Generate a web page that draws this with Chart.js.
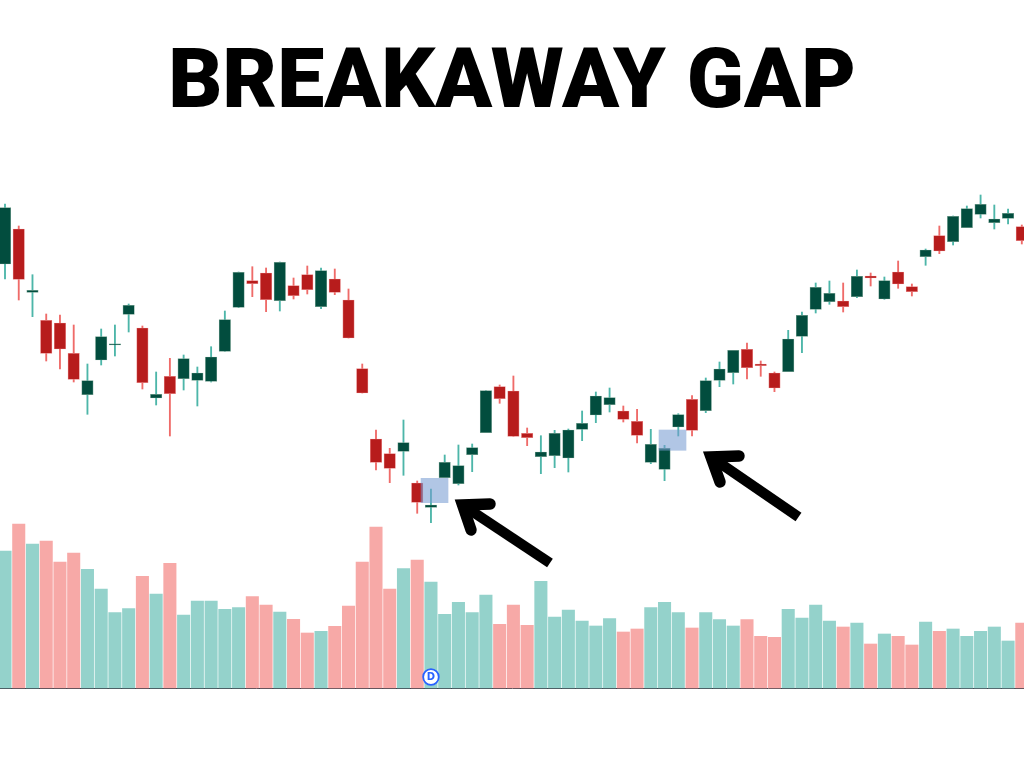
<!DOCTYPE html>
<html>
<head>
<meta charset="utf-8">
<title>Breakaway Gap</title>
<script src="https://cdn.jsdelivr.net/npm/chart.js@4"></script>
<style>
    html, body { margin: 0; padding: 0; background: #ffffff; }
    canvas { display: block; }
</style>
</head>
<body>
<canvas id="gap-chart" width="1024" height="768"></canvas>
<script>
const chartTitle = 'BREAKAWAY GAP';

// Candle values, left to right
const opens = [504, 539, 475.7, 447.7, 445, 414.7, 373.3, 408, 423, 453.7, 440, 370, 391.7, 389.3, 387.7, 386.7, 416.7, 460.7, 487.3, 495, 467.3, 482.3, 493.3, 461.3, 489, 468, 399.3, 329, 314.3, 316.7, 285, 260.7, 290.3, 284.3, 313.3, 335.3, 381.3, 377, 334.7, 311.3, 312.3, 310, 338.7, 353, 363.3, 357, 346.7, 305.7, 298.7, 341, 368.7, 357.3, 387.7, 395.3, 418.7, 404, 395, 396.3, 431.7, 458.7, 466.3, 467, 471.3, 492, 469, 496, 481.3, 511.3, 532.3, 526.3, 540.3, 553.7, 545.3, 549.7, 541.3];
const highs = [564, 542, 493.3, 454, 453, 443, 404, 439, 443, 464, 442, 396, 409.7, 413, 401, 421.3, 457, 496, 501.3, 500, 506, 490, 502, 500, 499, 479, 404, 338, 319.7, 348, 287, 279, 313, 323, 324, 377.3, 383, 392, 340, 332.3, 337.7, 339, 357, 376, 380, 362, 358.7, 338.7, 322.7, 354.3, 372.3, 390, 406, 417.7, 425, 407, 396, 437.7, 456, 485, 487, 485, 498, 495, 491, 507, 484, 519, 542, 552, 562, 573, 563, 559, 543];
const lows = [489, 468, 451.3, 407, 399, 386, 353.7, 403, 412, 436, 379, 363, 332, 378, 362, 386, 416.7, 460.3, 471.3, 456.3, 457, 469, 474, 459.3, 473.3, 430, 375, 298, 285.3, 292.7, 254.7, 245.3, 290.3, 283, 296.3, 335.3, 364.7, 331.7, 322.3, 294.3, 300.3, 296, 327.3, 345.3, 356, 346, 325, 304.3, 287.3, 332, 332, 355.3, 381.3, 384, 389, 391.7, 376.3, 396.3, 415.3, 455, 463.7, 456, 470.3, 482, 468.7, 479.7, 472, 502.7, 514.3, 523, 540.3, 550, 539, 544, 524];
const closes = [560.3, 488.7, 477.7, 414.7, 419, 388.7, 387.3, 431.3, 424.2, 462.7, 385.3, 373.7, 374.3, 409.3, 395, 411, 448.3, 495.7, 484.3, 468.3, 505.7, 472.3, 478.3, 497.3, 475.7, 430, 375, 305.7, 299.7, 325.3, 265.7, 263, 305.7, 302.3, 320.3, 377.3, 369.3, 331.7, 330.3, 316, 334.7, 338, 344.7, 372, 370.3, 348.7, 332.7, 323.7, 319.7, 353.3, 337.7, 387.3, 399, 417.7, 400.3, 402.3, 380, 429, 452.7, 480.7, 474.7, 461.3, 491.7, 490, 487.3, 484, 476.3, 518, 517, 551.7, 559.3, 563.7, 549, 554.7, 527.3];
const volumes = [137, 164, 144, 147, 126, 135, 118.7, 99, 75.3, 79.3, 111.7, 94, 124.7, 73, 87, 87, 78.7, 80.3, 91.3, 83, 76, 68.7, 55, 56.7, 61.7, 82, 126, 161, 99, 119.3, 128, 106, 73.7, 85.7, 75.3, 93, 63.7, 83, 62.7, 106.7, 71, 78, 67, 62, 69.3, 56, 59, 80.3, 85.7, 75.3, 60, 75.3, 68.3, 62, 68.3, 51.7, 50.7, 78.7, 70, 83, 67, 61, 65, 44, 54, 51.7, 43, 66, 56.7, 59, 51.7, 56.7, 61, 47, 65];

// The two highlighted gaps: candle position and price range
const gapPositions = [31.26, 48.58];
const gapLows = [265.3, 317.7];
const gapHighs = [289.7, 338];

// Arrows pointing at the gaps, in candle position and price
const arrowTips = [[33.3, 263], [51.38, 311]];
const arrowBarbsA = [[35.3, 264], [53.42, 312]];
const arrowBarbsB = [[33.92, 238], [52.04, 286]];
const arrowTails = [[39.66, 205], [57.75, 251]];

// Dividend badge under candle 31
const badgeCandle = 31;
const badgeVolume = 11;

const candleIndex = opens.map((value, index) => index);
const isUp = candleIndex.map(i => closes[i] >= opens[i]);

function pickColors(upColor, downColor) {
    return isUp.map(up => up ? upColor : downColor);
}

// Draws the arrows and the little D badge on top of the bars
const overlayPlugin = {
    id: 'overlay',
    afterDatasetsDraw(chart) {
        const ctx = chart.ctx;
        const x = chart.scales.x;
        const price = chart.scales.price;
        const volume = chart.scales.volume;
        const px = p => [x.getPixelForValue(p[0]), price.getPixelForValue(p[1])];

        ctx.save();
        ctx.strokeStyle = '#000000';
        arrowTips.forEach((tip, i) => {
            const t = px(tip), a = px(arrowBarbsA[i]), b = px(arrowBarbsB[i]), e = px(arrowTails[i]);
            ctx.lineWidth = 10.4;
            ctx.lineCap = 'butt';
            ctx.beginPath();
            ctx.moveTo(t[0], t[1]);
            ctx.lineTo(e[0], e[1]);
            ctx.stroke();
            ctx.lineWidth = 11.4;
            ctx.lineCap = 'round';
            ctx.lineJoin = 'miter';
            ctx.beginPath();
            ctx.moveTo(a[0], a[1]);
            ctx.lineTo(t[0], t[1]);
            ctx.lineTo(b[0], b[1]);
            ctx.stroke();
        });

        const bx = x.getPixelForValue(badgeCandle);
        const by = volume.getPixelForValue(badgeVolume);
        ctx.beginPath();
        ctx.arc(bx, by, 7.8, 0, Math.PI * 2);
        ctx.fillStyle = '#ffffff';
        ctx.fill();
        ctx.lineWidth = 1.8;
        ctx.strokeStyle = '#2962ff';
        ctx.stroke();
        ctx.fillStyle = '#2962ff';
        ctx.font = 'bold 10px "DejaVu Sans"';
        ctx.textAlign = 'center';
        ctx.textBaseline = 'middle';
        ctx.fillText('D', bx, by + 0.5);
        ctx.restore();
    }
};

new Chart(document.getElementById('gap-chart').getContext('2d'), {
    type: 'bar',
    data: {
        datasets: [
            {
                label: 'Gap',
                data: gapPositions.map((pos, i) => ({ x: pos, y: [gapLows[i], gapHighs[i]] })),
                yAxisID: 'price',
                backgroundColor: 'rgba(118, 155, 210, 0.57)',
                barThickness: 27,
                order: 0
            },
            {
                label: 'Body',
                data: candleIndex.map(i => ({ x: i, y: [opens[i], closes[i]] })),
                yAxisID: 'price',
                backgroundColor: pickColors('#024d3e', '#b71c1c'),
                borderColor: pickColors('#6c9a8b', '#e58080'),
                borderWidth: 0.7,
                borderSkipped: false,
                barThickness: 11.4,
                order: 1
            },
            {
                label: 'Wick',
                data: candleIndex.map(i => ({ x: i, y: [lows[i], highs[i]] })),
                yAxisID: 'price',
                backgroundColor: pickColors('#4db6a9', '#ef6b69'),
                barThickness: 1.2,
                order: 2
            },
            {
                label: 'Volume',
                data: candleIndex.map(i => ({ x: i, y: volumes[i] })),
                yAxisID: 'volume',
                backgroundColor: pickColors('#94d2cb', '#f7a9a7'),
                barThickness: 12.4,
                order: 3
            }
        ]
    },
    options: {
        responsive: false,
        animation: false,
        layout: { padding: 0 },
        datasets: { bar: { grouped: false } },
        plugins: {
            legend: { display: false },
            tooltip: { enabled: false },
            title: {
                display: true,
                text: chartTitle,
                color: '#000000',
                font: { family: 'Roboto', size: 84, weight: 900, lineHeight: '88px' },
                padding: { top: 42, bottom: 0 }
            }
        },
        scales: {
            x: {
                type: 'linear',
                position: { volume: 0 },
                offset: false,
                min: -0.364,
                max: 74.16,
                grid: { display: false },
                ticks: { display: false },
                border: { color: '#363a45', width: 1 }
            },
            price: { display: false, min: 0, max: 638 },
            volume: { display: false, min: -80, max: 558 }
        }
    },
    plugins: [overlayPlugin]
});
</script>
</body>
</html>
